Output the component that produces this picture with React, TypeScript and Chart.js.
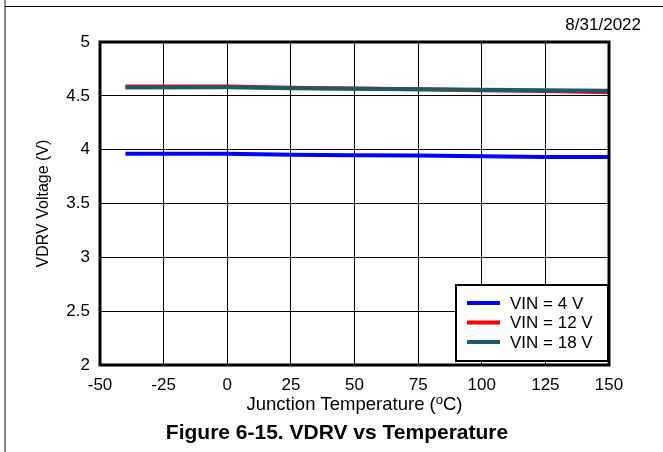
import React, { useEffect, useRef } from "react";
import { Chart, registerables } from "chart.js";

Chart.register(...registerables);

const temps = [-40, 0, 25, 50, 75, 100, 125, 150];
const vin4 = [3.963, 3.962, 3.952, 3.948, 3.945, 3.94, 3.933, 3.932];
const vin12 = [4.586, 4.586, 4.576, 4.569, 4.562, 4.553, 4.544, 4.534];
const vin18 = [4.578, 4.579, 4.571, 4.566, 4.561, 4.556, 4.551, 4.548];
const seriesLabels = ["VIN = 4 V", "VIN = 12 V", "VIN = 18 V"];
const seriesColors = ["#0000FF", "#FF0000", "#1B5A6A"];
const xTicks = [-50, -25, 0, 25, 50, 75, 100, 125, 150];
const yTicks = [2, 2.5, 3, 3.5, 4, 4.5, 5];
const dateText = "8/31/2022";
const xTitleParts = ["Junction Temperature (", "o", "C)"];
const yTitle = "VDRV Voltage (V)";
const caption = "Figure 6-15. VDRV vs Temperature";

const FONT = "'Liberation Sans', Arial, sans-serif";

const decorPlugin = {
  id: "decor",
  afterDatasetsDraw(chart: any) {
    const { ctx, chartArea } = chart;
    const { left, right, top, bottom } = chartArea;
    ctx.save();
    // plot border
    ctx.strokeStyle = "#000";
    ctx.lineWidth = 3;
    ctx.strokeRect(left, top, right - left, bottom - top);

    // legend
    const lx1 = right - 153;
    const lx2 = right - 1;
    const ly1 = bottom - 80;
    const ly2 = bottom - 4;
    ctx.fillStyle = "#fff";
    ctx.fillRect(lx1, ly1, lx2 - lx1, ly2 - ly1);
    ctx.lineWidth = 2;
    ctx.strokeStyle = "#000";
    ctx.strokeRect(lx1, ly1, lx2 - lx1, ly2 - ly1);
    ctx.font = `17px ${FONT}`;
    ctx.textBaseline = "middle";
    ctx.textAlign = "left";
    seriesLabels.forEach((lab, i) => {
      const yy = ly1 + 18 + i * 19.5;
      ctx.strokeStyle = seriesColors[i];
      ctx.lineWidth = 4;
      ctx.beginPath();
      ctx.moveTo(lx1 + 11, yy);
      ctx.lineTo(lx1 + 44, yy);
      ctx.stroke();
      ctx.fillStyle = "#000";
      ctx.fillText(lab, lx1 + 54, yy + 1);
    });
    ctx.restore();
  },
  afterDraw(chart: any) {
    const { ctx, chartArea } = chart;
    const { left, right, top, bottom } = chartArea;
    ctx.save();
    ctx.fillStyle = "#000";
    // date
    ctx.font = `17px ${FONT}`;
    ctx.textAlign = "right";
    ctx.textBaseline = "alphabetic";
    ctx.fillText(dateText, 641, 30);

    // x title with superscript
    const cx = (left + right) / 2;
    const big = `18.5px ${FONT}`;
    const small = `13px ${FONT}`;
    ctx.font = big;
    const w1 = ctx.measureText(xTitleParts[0]).width;
    const w3 = ctx.measureText(xTitleParts[2]).width;
    ctx.font = small;
    const w2 = ctx.measureText(xTitleParts[1]).width;
    const total = w1 + w2 + w3;
    let x = cx - total / 2;
    const base = bottom + 45;
    ctx.textAlign = "left";
    ctx.font = big;
    ctx.fillText(xTitleParts[0], x, base);
    x += w1;
    ctx.font = small;
    ctx.fillText(xTitleParts[1], x, base - 6);
    x += w2;
    ctx.font = big;
    ctx.fillText(xTitleParts[2], x, base);

    // y title
    ctx.save();
    ctx.translate(44, (top + bottom) / 2);
    ctx.rotate(-Math.PI / 2);
    ctx.font = `16px ${FONT}`;
    ctx.textAlign = "center";
    ctx.textBaseline = "middle";
    ctx.fillText(yTitle, 0, 0);
    ctx.restore();

    // caption
    ctx.font = `bold 21px ${FONT}`;
    ctx.textAlign = "center";
    ctx.textBaseline = "alphabetic";
    ctx.fillText(caption, 337, 439);
    ctx.restore();
  },
};

export default function App() {
  const ref = useRef<HTMLCanvasElement>(null);
  useEffect(() => {
    if (!ref.current) return;
    const mk = (vals: number[]) => temps.map((t, i) => ({ x: t, y: vals[i] }));
    const chart = new Chart(ref.current, {
      type: "line",
      data: {
        datasets: [
          { label: seriesLabels[0], data: mk(vin4), borderColor: seriesColors[0], borderWidth: 4, pointRadius: 0, tension: 0, order: 2 },
          { label: seriesLabels[1], data: mk(vin12), borderColor: seriesColors[1], borderWidth: 4, pointRadius: 0, tension: 0, order: 1 },
          { label: seriesLabels[2], data: mk(vin18), borderColor: seriesColors[2], borderWidth: 4, pointRadius: 0, tension: 0, order: 0 },
        ],
      },
      options: {
        responsive: false,
        animation: false,
        devicePixelRatio: 1,
        layout: { padding: { top: 42, right: 54, bottom: 0, left: 0 } },
        plugins: { legend: { display: false }, tooltip: { enabled: false }, title: { display: false } },
        scales: {
          x: {
            type: "linear",
            min: xTicks[0],
            max: xTicks[xTicks.length - 1],
            afterBuildTicks: (s: any) => { s.ticks = xTicks.map((v) => ({ value: v })); },
            afterFit: (s: any) => { s.height = 87; },
            ticks: { color: "#000", font: { family: FONT, size: 17 }, padding: 10, maxRotation: 0, autoSkip: false },
            grid: { color: "#000", lineWidth: 1, drawTicks: false },
            border: { display: false },
          },
          y: {
            type: "linear",
            min: yTicks[0],
            max: yTicks[yTicks.length - 1],
            afterBuildTicks: (s: any) => { s.ticks = yTicks.map((v) => ({ value: v })); },
            afterFit: (s: any) => { s.width = 100; },
            ticks: { color: "#000", font: { family: FONT, size: 17 }, padding: 10, autoSkip: false, callback: (v: any) => String(v) },
            grid: { color: "#000", lineWidth: 1, drawTicks: false },
            border: { display: false },
          },
        },
      },
      plugins: [decorPlugin],
    } as any);
    return () => chart.destroy();
  }, []);
  return (
    <div style={{ position: "absolute", left: 0, top: 0, width: 663, height: 452, background: "#fff" }}>
      <div style={{ position: "absolute", left: 4, top: 0, width: 2, height: 452, background: "#888" }} />
      <div style={{ position: "absolute", left: 5, top: 6, width: 658, height: 1, background: "#000" }} />
      <canvas ref={ref} width={663} height={452} style={{ position: "absolute", left: 0, top: 0 }} />
    </div>
  );
}
